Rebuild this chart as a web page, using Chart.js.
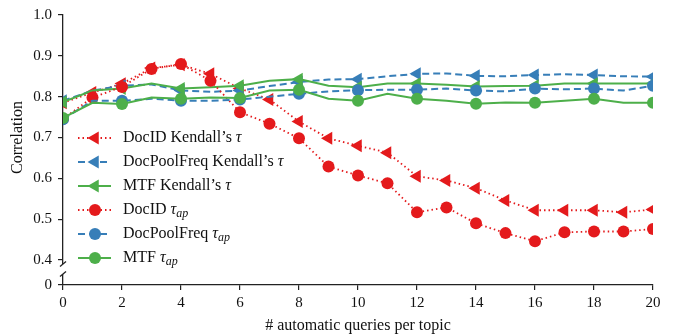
<!DOCTYPE html>
<html>
<head>
<meta charset="utf-8">
<script src="https://cdn.jsdelivr.net/npm/chart.js@4.4.1/dist/chart.umd.min.js"></script>
<style>
  html, body { margin: 0; padding: 0; background: #fff; }
  #wrap { width: 673px; height: 335px; }
</style>
</head>
<body>
<div id="wrap"><canvas id="corrChart"></canvas></div>
<script>
// x positions: number of automatic queries per topic
const queries = [0, 1, 2, 3, 4, 5, 6, 7, 8, 9, 10, 11, 12, 13, 14, 15, 16, 17, 18, 19, 20];

const docidKendall   = [0.785, 0.81, 0.832, 0.87, 0.878, 0.856, 0.82, 0.793, 0.739, 0.698, 0.68, 0.663, 0.605, 0.595, 0.576, 0.546, 0.522, 0.522, 0.522, 0.517, 0.524];
const docpoolKendall = [0.79, 0.815, 0.827, 0.83, 0.815, 0.812, 0.815, 0.826, 0.836, 0.842, 0.843, 0.85, 0.856, 0.857, 0.851, 0.85, 0.853, 0.855, 0.853, 0.85, 0.849];
const mtfKendall     = [0.787, 0.815, 0.82, 0.832, 0.82, 0.823, 0.827, 0.839, 0.843, 0.827, 0.823, 0.832, 0.832, 0.829, 0.825, 0.826, 0.827, 0.832, 0.832, 0.832, 0.832];
const docidTauAp     = [0.746, 0.798, 0.824, 0.868, 0.88, 0.839, 0.762, 0.734, 0.698, 0.629, 0.607, 0.588, 0.517, 0.529, 0.49, 0.466, 0.446, 0.468, 0.47, 0.47, 0.476];
const docpoolTauAp   = [0.745, 0.79, 0.79, 0.795, 0.79, 0.79, 0.793, 0.8, 0.807, 0.813, 0.816, 0.817, 0.817, 0.82, 0.815, 0.813, 0.82, 0.818, 0.82, 0.815, 0.827];
const mtfTauAp       = [0.748, 0.785, 0.782, 0.798, 0.795, 0.798, 0.797, 0.815, 0.817, 0.795, 0.79, 0.807, 0.795, 0.79, 0.783, 0.786, 0.785, 0.79, 0.795, 0.785, 0.785];

const yTickValues = [0.4, 0.5, 0.6, 0.7, 0.8, 0.9, 1.0];
const xTickValues = [0, 2, 4, 6, 8, 10, 12, 14, 16, 18, 20];

// the y axis is broken between 0 and 0.4; "0" sits just below the break
const BREAK_ZERO = 0.339;

const RED = '#e41a1c';
const BLUE = '#377eb8';
const GREEN = '#4daf4a';
const FONT = '"Liberation Serif", "DejaVu Serif", serif';

const series = [
    { label: 'DocID Kendall’s ', tau: 'k', data: docidKendall, color: RED, dash: [1.5, 3], width: 1.8, style: 'triangle', every: 1 },
    { label: 'DocPoolFreq Kendall’s ', tau: 'k', data: docpoolKendall, color: BLUE, dash: [7, 4], width: 2, style: 'triangle', every: 2 },
    { label: 'MTF Kendall’s ', tau: 'k', data: mtfKendall, color: GREEN, dash: [], width: 2, style: 'triangle', every: 2 },
    { label: 'DocID ', tau: 'ap', data: docidTauAp, color: RED, dash: [1.5, 3], width: 1.8, style: 'circle', every: 1 },
    { label: 'DocPoolFreq ', tau: 'ap', data: docpoolTauAp, color: BLUE, dash: [7, 4], width: 2, style: 'circle', every: 2 },
    { label: 'MTF ', tau: 'ap', data: mtfTauAp, color: GREEN, dash: [], width: 2, style: 'circle', every: 2 }
];

function markerRadius(s) {
    return s.style === 'triangle' ? 7.5 : 6;
}

const datasets = series.map((s, i) => ({
    label: s.label,
    data: queries.map((q, j) => ({ x: q, y: s.data[j] })),
    borderColor: s.color,
    backgroundColor: s.color,
    borderWidth: s.width,
    borderDash: s.dash,
    tension: 0,
    fill: false,
    pointStyle: s.style,
    pointRotation: s.style === 'triangle' ? -90 : 0,
    pointBorderWidth: 0,
    pointRadius: ctx => (ctx.dataIndex % s.every === 0 ? markerRadius(s) : 0),
    pointHoverRadius: 0,
    order: series.length - i
}));

const breakAndLegend = {
    id: 'breakAndLegend',
    afterDraw(chart) {
        const ctx = chart.ctx;
        const y = chart.scales.y;
        const axX = chart.chartArea.left;

        // axis break
        const yTop = y.getPixelForValue(0.4) + 4;
        const yBot = y.getPixelForValue(BREAK_ZERO) - 11;
        ctx.save();
        ctx.fillStyle = '#fff';
        ctx.fillRect(axX - 2, yTop, 4, yBot - yTop);
        ctx.strokeStyle = '#222';
        ctx.lineWidth = 1.3;
        [yTop, yBot].forEach(yy => {
            ctx.beginPath();
            ctx.moveTo(axX - 3, yy + 2.5);
            ctx.lineTo(axX + 3, yy - 2.5);
            ctx.stroke();
        });

        // y axis title, centred on the 0.4 - 1.0 part
        const midY = (y.getPixelForValue(0.4) + y.getPixelForValue(1.0)) / 2;
        ctx.translate(18, midY);
        ctx.rotate(-Math.PI / 2);
        ctx.fillStyle = '#111';
        ctx.font = '16px ' + FONT;
        ctx.textAlign = 'center';
        ctx.textBaseline = 'middle';
        ctx.fillText('Correlation', 0, 0);
        ctx.restore();

        // legend inside the plot
        ctx.save();
        const rowY0 = 138;
        const rowGap = 24;
        series.forEach((s, i) => {
            const ry = rowY0 + i * rowGap;
            ctx.strokeStyle = s.color;
            ctx.lineWidth = s.width;
            ctx.setLineDash(s.dash);
            ctx.beginPath();
            ctx.moveTo(78, ry);
            ctx.lineTo(111, ry);
            ctx.stroke();
            ctx.setLineDash([]);
            ctx.fillStyle = s.color;
            const r = markerRadius(s);
            ctx.beginPath();
            if (s.style === 'triangle') {
                ctx.moveTo(95 - r, ry);
                ctx.lineTo(95 + r / 2, ry - r * 0.866);
                ctx.lineTo(95 + r / 2, ry + r * 0.866);
                ctx.closePath();
            } else {
                ctx.arc(95, ry, r, 0, Math.PI * 2);
            }
            ctx.fill();

            ctx.fillStyle = '#111';
            ctx.textBaseline = 'middle';
            ctx.textAlign = 'left';
            ctx.font = '16px ' + FONT;
            let tx = 123;
            ctx.fillText(s.label, tx, ry);
            tx += ctx.measureText(s.label).width;
            ctx.font = 'italic 16px ' + FONT;
            ctx.fillText('τ', tx, ry);
            if (s.tau === 'ap') {
                tx += ctx.measureText('τ').width;
                ctx.font = 'italic 12px ' + FONT;
                ctx.fillText('ap', tx, ry + 4);
            }
        });
        ctx.restore();
    }
};

const config = {
    type: 'line',
    data: { datasets: datasets },
    options: {
        responsive: true,
        maintainAspectRatio: false,
        animation: false,
        devicePixelRatio: 1,
        layout: { padding: { top: 14, right: 20, left: 0, bottom: 0 } },
        plugins: {
            legend: { display: false },
            tooltip: { enabled: false }
        },
        scales: {
            x: {
                type: 'linear',
                min: 0,
                max: 20,
                afterBuildTicks: scale => {
                    scale.ticks = xTickValues.map(v => ({ value: v }));
                },
                afterFit: scale => { scale.height = 50; },
                grid: { display: true, drawOnChartArea: false, drawTicks: true, tickLength: 5, color: '#222', lineWidth: 1.2 },
                border: { display: true, color: '#222', width: 1.3 },
                ticks: { color: '#111', font: { family: FONT, size: 15 }, padding: 4, maxRotation: 0 },
                title: {
                    display: true,
                    text: '# automatic queries per topic',
                    color: '#111',
                    font: { family: FONT, size: 16 },
                    padding: { top: 0, bottom: 0 }
                }
            },
            y: {
                type: 'linear',
                min: BREAK_ZERO,
                max: 1.0,
                afterBuildTicks: scale => {
                    scale.ticks = [BREAK_ZERO].concat(yTickValues).map(v => ({ value: v }));
                },
                afterFit: scale => { scale.width = 63; },
                grid: { display: true, drawOnChartArea: false, drawTicks: true, tickLength: 5, color: '#222', lineWidth: 1.2 },
                border: { display: true, color: '#222', width: 1.3 },
                ticks: {
                    color: '#111',
                    font: { family: FONT, size: 15 },
                    padding: 6,
                    callback: v => (v < 0.35 ? '0' : Number(v).toFixed(1))
                }
            }
        }
    },
    plugins: [breakAndLegend]
};

const ctx = document.getElementById('corrChart').getContext('2d');
const chart = new Chart(ctx, config);
</script>
</body>
</html>
